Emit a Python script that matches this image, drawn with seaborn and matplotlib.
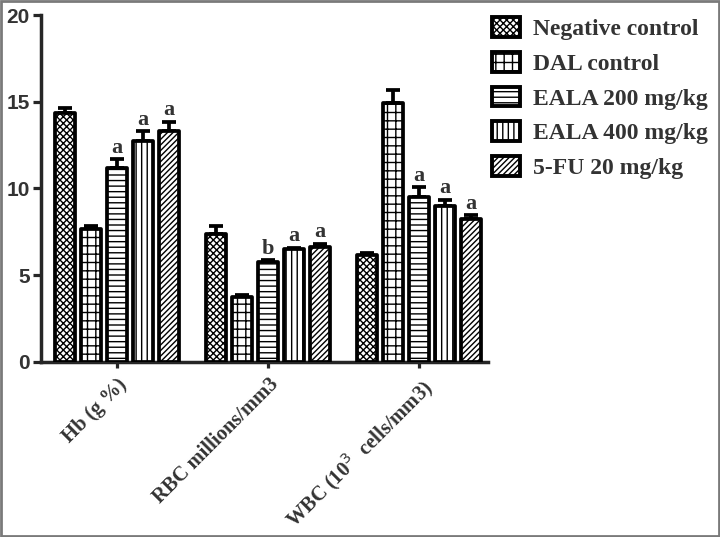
import numpy as np
import pandas as pd
import matplotlib
matplotlib.use("Agg")
import matplotlib.pyplot as plt
import seaborn as sns
from matplotlib.patches import Patch, Rectangle

# ---- data ----
categories = ["Hb (g %)", "RBC millions/mm3", "WBC (10$^3$  cells/mm3)"]
groups = ["Negative control", "DAL control", "EALA 200 mg/kg", "EALA 400 mg/kg", "5-FU 20 mg/kg"]
neg_control = [14.35, 7.38, 6.17]
dal_control = [7.67, 3.75, 14.95]
eala_200 = [11.2, 5.76, 9.53]
eala_400 = [12.75, 6.50, 9.00]
fu_20 = [13.3, 6.60, 8.22]
neg_err = [0.30, 0.45, 0.10]
dal_err = [0.15, 0.12, 0.70]
eala_200_err = [0.50, 0.12, 0.55]
eala_400_err = [0.55, 0.08, 0.35]
fu_20_err = [0.55, 0.22, 0.25]
neg_sig = ["", "", ""]
dal_sig = ["", "", ""]
eala_200_sig = ["a", "b", "a"]
eala_400_sig = ["a", "a", "a"]
fu_20_sig = ["a", "a", "a"]
yticks = [0, 5, 10, 15, 20]

values = [neg_control, dal_control, eala_200, eala_400, fu_20]
errors = [neg_err, dal_err, eala_200_err, eala_400_err, fu_20_err]
sigs = [neg_sig, dal_sig, eala_200_sig, eala_400_sig, fu_20_sig]
hatches = ["xxxxx", "++", "---", "|||", "//////"]

rows = []
for g, vals in zip(groups, values):
    for c, v in zip(categories, vals):
        rows.append({"param": c, "value": v, "group": g})
df = pd.DataFrame(rows)

sns.set_style("ticks")
plt.rcParams["hatch.linewidth"] = 1.0
plt.rcParams["font.family"] = ["Liberation Serif", "DejaVu Serif"]

fig = plt.figure(figsize=(7.2, 5.37), dpi=100)
ax = fig.add_axes([0.057, 0.326, 0.621, 0.646])

sns.barplot(data=df, x="param", y="value", hue="group", hue_order=groups,
            order=categories, width=0.86, gap=0.25, errorbar=None,
            palette=["white"] * 5, legend=False, ax=ax, zorder=3)

lw = 2.7
for cont, h, errs, sg in zip(ax.containers, hatches, errors, sigs):
    xs, ys = [], []
    for bar in cont:
        bar.set_facecolor("white")
        bar.set_edgecolor("black")
        bar.set_linewidth(lw)
        bar.set_hatch(h)
        bar.set_joinstyle("round")
        xs.append(bar.get_x() + bar.get_width() / 2)
        ys.append(bar.get_height())
    ax.errorbar(xs, ys, yerr=[np.zeros(len(errs)), errs], fmt="none",
                ecolor="black", elinewidth=lw, capsize=5, capthick=lw, zorder=2)
    for x, y, e, s in zip(xs, ys, errs, sg):
        if s:
            ax.annotate(s, (x, y + e), xytext=(0, 1), textcoords="offset points",
                        ha="center", va="bottom", fontsize=16, fontweight="bold",
                        color="#333333")

ax.set_ylim(0, 20)
ax.set_xlim(-0.503, 2.457)
ax.set_yticks(yticks)
ax.set_yticklabels([str(t) for t in yticks], fontfamily="Liberation Sans",
                   fontweight="bold", fontsize=15, color="#333333")
ax.set_xlabel("")
ax.set_ylabel("")
ax.set_xticks(range(len(categories)))
ax.set_xticklabels(categories, rotation=45, ha="right", va="top",
                   rotation_mode="anchor", fontsize=14.8, fontweight="bold",
                   color="#333333")
ax.tick_params(axis="y", length=6, width=2.3, pad=2)
ax.tick_params(axis="x", length=4, width=2.3, pad=5)
for sp in ["top", "right"]:
    ax.spines[sp].set_visible(False)
for sp in ["left", "bottom"]:
    ax.spines[sp].set_linewidth(2.5)

handles = [Patch(facecolor="white", edgecolor="black", hatch=h, linewidth=2.8,
                 label=g) for g, h in zip(groups, hatches)]
fig.legend(handles=handles, loc="upper left", bbox_to_anchor=(0.667, 0.99),
           frameon=False, borderpad=0, handlelength=1.2, handleheight=0.9,
           handletextpad=0.55, labelspacing=0.5,
           prop={"family": "Liberation Serif", "weight": "bold", "size": 17},
           labelcolor="#333333")

fig.patches.append(Rectangle((0.001, 0.001), 0.997, 0.997, transform=fig.transFigure,
                             fill=False, edgecolor="#7a7a7a", linewidth=2))

fig.savefig("out.png", dpi=100)
